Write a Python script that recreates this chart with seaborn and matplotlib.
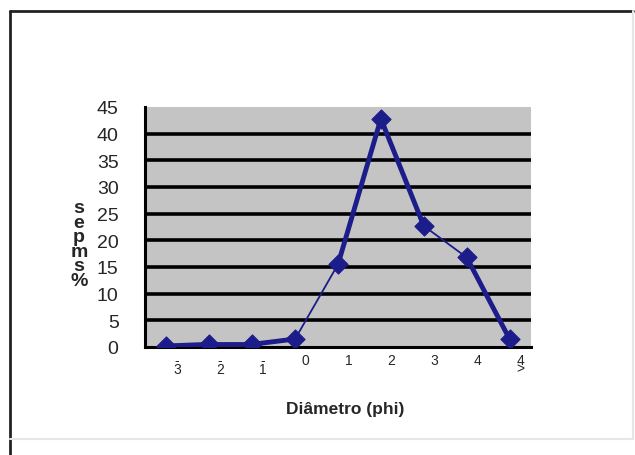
import numpy as np
import pandas as pd
import matplotlib
matplotlib.use("Agg")
import matplotlib.pyplot as plt
import seaborn as sns
from matplotlib.lines import Line2D

# ---- data ----
categories = ["-3", "-2", "-1", "0", "1", "2", "3", "4", ">4"]
tick_labels = ["-\n3", "-\n2", "-\n1", "0", "1", "2", "3", "4", "4\n>"]
values = [0.2, 0.5, 0.5, 1.5, 15.5, 42.8, 22.7, 16.8, 1.5]
thick_segments = [(0, 1), (1, 2), (2, 3), (4, 5), (5, 6), (7, 8)]
x_title = "Diâmetro (phi)"
y_title = "s\ne\np\nm\ns\n%"
y_ticks = [0, 5, 10, 15, 20, 25, 30, 35, 40, 45]

sns.set_style("white")
plt.rcParams["font.family"] = ["Liberation Sans", "DejaVu Sans"]

NAVY = "#1c1c8a"

fig = plt.figure(figsize=(6.35, 4.56), dpi=100)
ax = fig.add_axes([145 / 635, (456 - 348) / 456, (531 - 145) / 635, (348 - 108) / 456])

pos = np.arange(len(categories))
df = pd.DataFrame({"pos": pos, "cat": categories, "val": values})

rows = []
for k, (a, b) in enumerate(thick_segments):
    for i in (a, b):
        rows.append({"pos": pos[i], "val": values[i], "seg": k})
seg_df = pd.DataFrame(rows)

ax.set_facecolor("#c4c4c4")
sns.lineplot(data=df, x="pos", y="val", ax=ax, color=NAVY, linewidth=1.3,
             estimator=None, sort=False, zorder=3)
sns.lineplot(data=seg_df, x="pos", y="val", units="seg", estimator=None, ax=ax,
             color=NAVY, linewidth=3.5, sort=False, zorder=4)
sns.scatterplot(data=df, x="pos", y="val", ax=ax, marker="D", s=95, color=NAVY,
                edgecolor=NAVY, zorder=5)

ax.set_xlim(-0.5, 8.5)
ax.set_ylim(0, 45)

ax.set_yticks(y_ticks)
ax.set_yticklabels([str(t) for t in y_ticks], fontsize=14)
for t in y_ticks[1:-1]:
    ax.axhline(t, color="black", linewidth=2.6, zorder=2)

ax.set_xticks(np.arange(-0.5, 9.0, 1.0))
ax.set_xticklabels([])
ax.set_xticks(pos + 0.25, minor=True)
ax.set_xticklabels(tick_labels, minor=True, fontsize=10)
for lbl in ax.get_xticklabels(minor=True):
    lbl.set_linespacing(0.55)
ax.tick_params(axis="x", which="minor", length=0, pad=4)
ax.tick_params(axis="x", which="major", length=4, width=2, color="black", direction="out")
ax.tick_params(axis="y", which="major", length=6, width=2, color="black", direction="out", pad=13)

ax.set_xlabel("")
ax.set_ylabel("")

for side in ["top", "right"]:
    ax.spines[side].set_visible(False)
for side in ["left", "bottom"]:
    ax.spines[side].set_color("black")
    ax.spines[side].set_linewidth(2.2)

fig.text(345 / 635, 1 - 410 / 456, x_title, ha="center", va="center",
         fontsize=12.5, fontweight="bold")
fig.text(79 / 635, 1 - 245 / 456, y_title, ha="center", va="center",
         fontsize=14, fontweight="bold", linespacing=0.82)

fig.add_artist(Line2D([10 / 635, 633 / 635], [1 - 12 / 456, 1 - 12 / 456],
                      transform=fig.transFigure, color="#222222", linewidth=2))
fig.add_artist(Line2D([10 / 635, 10 / 635], [1 - 12 / 456, 0],
                      transform=fig.transFigure, color="#222222", linewidth=2))
fig.add_artist(Line2D([633 / 635, 633 / 635], [1 - 12 / 456, 1 - 440 / 456],
                      transform=fig.transFigure, color="#e6e6e6", linewidth=1.5))
fig.add_artist(Line2D([10 / 635, 633 / 635], [1 - 440 / 456, 1 - 440 / 456],
                      transform=fig.transFigure, color="#e6e6e6", linewidth=1.5))

fig.savefig("out.png", dpi=100)
